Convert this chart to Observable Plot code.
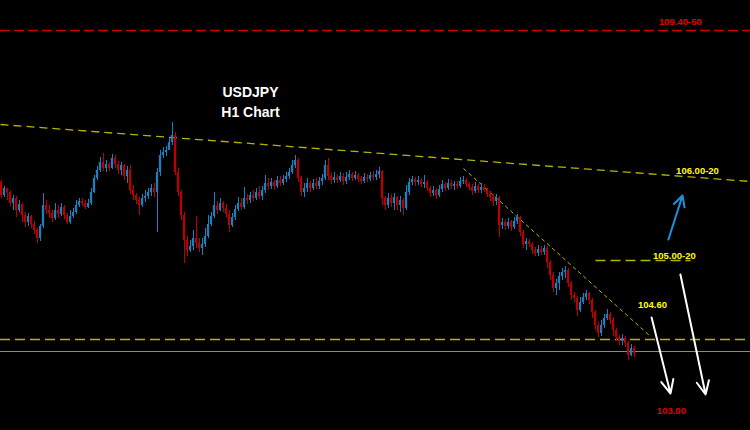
<!DOCTYPE html>
<html><head><meta charset="utf-8">
<script src="https://cdn.jsdelivr.net/npm/d3@7"></script>
<script src="https://cdn.jsdelivr.net/npm/@observablehq/plot@0.6"></script>
<style>html,body{margin:0;padding:0;background:#000;overflow:hidden}#chart svg{display:block}</style>
</head><body><div id="chart"></div>
<script>
// USDJPY H1 candles (bar index = position); open of each bar = previous close
const firstOpen = 105.88;
const close = [
105.75,105.82,105.78,105.67,105.72,105.60,105.66,105.55,105.48,105.54,
105.46,105.40,105.32,105.44,105.65,105.60,105.57,105.52,105.60,105.56,
105.63,105.55,105.48,105.54,105.58,105.65,105.69,105.67,105.63,105.67,
105.78,105.92,106.00,106.08,106.02,106.06,106.02,106.12,106.06,106.00,
106.05,105.94,106.00,105.80,105.75,105.70,105.65,105.72,105.74,105.78,
105.82,105.78,105.98,106.15,106.18,106.20,106.28,106.35,105.98,105.78,
105.55,105.30,105.20,105.24,105.32,105.27,105.22,105.26,105.34,105.46,
105.54,105.65,105.60,105.67,105.62,105.56,105.45,105.53,105.61,105.67,
105.63,105.72,105.70,105.75,105.72,105.78,105.74,105.80,105.87,105.84,
105.88,105.84,105.90,105.87,105.91,105.94,105.98,106.05,106.10,105.92,
105.78,105.82,105.87,105.82,105.87,105.84,105.89,105.92,106.05,105.94,
105.90,105.93,105.90,105.94,105.89,105.93,105.96,105.92,105.95,105.91,
105.89,105.93,105.91,105.95,105.93,105.96,105.99,105.72,105.65,105.72,
105.67,105.73,105.65,105.70,105.62,105.78,105.88,105.91,105.88,105.90,
105.86,105.88,105.82,105.77,105.80,105.75,105.81,105.86,105.82,105.87,
105.84,105.86,105.84,105.89,105.90,105.86,105.83,105.79,105.84,105.80,
105.83,105.80,105.76,105.73,105.69,105.72,105.45,105.48,105.44,105.48,
105.43,105.49,105.53,105.38,105.26,105.29,105.26,105.20,105.17,105.21,
105.18,105.22,105.08,104.95,104.82,104.87,104.94,104.98,105.00,104.87,
104.75,104.72,104.60,104.68,104.73,104.77,104.70,104.58,104.45,104.37,
104.45,104.52,104.56,104.50,104.40,104.33,104.29,104.32,104.27,104.15,
104.22,104.17];
const high = [
105.90,105.84,105.82,105.80,105.75,105.74,105.70,105.67,105.58,105.57,
105.55,105.49,105.42,105.46,105.77,105.70,105.65,105.60,105.67,105.65,
105.67,105.65,105.57,105.60,105.62,105.70,105.72,105.72,105.70,105.71,
105.82,105.95,106.04,106.13,106.17,106.10,106.08,106.16,106.15,106.09,
106.08,106.06,106.04,106.05,105.85,105.77,105.73,105.76,105.80,105.82,
105.86,105.87,106.02,106.20,106.23,106.24,106.32,106.48,106.38,106.02,
105.80,105.58,105.34,105.30,105.40,105.54,105.32,105.32,105.42,105.55,
105.58,105.78,105.69,105.72,105.69,105.66,105.60,105.57,105.65,105.73,
105.72,105.83,105.76,105.78,105.80,105.82,105.84,105.84,105.95,105.92,
105.92,105.90,105.94,105.94,105.95,105.98,106.02,106.10,106.15,106.12,
105.94,105.87,105.92,105.89,105.91,105.92,105.93,105.96,106.10,106.12,
105.97,105.98,105.96,105.98,105.97,105.98,106.00,105.98,105.99,105.97,
105.94,105.97,105.96,105.98,105.99,106.00,106.03,106.00,105.74,105.77,
105.76,105.77,105.74,105.74,105.72,105.85,105.92,105.94,105.93,105.94,
105.92,105.95,105.90,105.84,105.84,105.82,105.85,105.90,105.88,105.91,
105.90,105.89,105.89,105.93,105.94,105.92,105.88,105.86,105.88,105.86,
105.87,105.86,105.82,105.79,105.76,105.76,105.74,105.52,105.51,105.52,
105.50,105.53,105.56,105.54,105.40,105.32,105.31,105.28,105.23,105.25,
105.24,105.25,105.24,105.10,104.98,104.91,104.98,105.02,105.04,105.02,
104.89,104.78,104.74,104.73,104.77,104.80,104.78,104.72,104.60,104.48,
104.50,104.56,104.61,104.58,104.53,104.42,104.35,104.36,104.34,104.29,
104.26,104.24];
const low = [
105.72,105.73,105.70,105.64,105.60,105.53,105.58,105.48,105.43,105.44,
105.42,105.36,105.27,105.29,105.42,105.56,105.52,105.48,105.50,105.52,
105.54,105.51,105.46,105.46,105.52,105.56,105.63,105.64,105.61,105.62,
105.65,105.77,105.90,105.98,105.99,105.98,105.99,106.01,106.02,105.96,
105.95,105.90,105.87,105.76,105.70,105.66,105.55,105.63,105.68,105.71,
105.74,105.73,105.38,105.94,106.12,106.14,106.20,106.25,105.95,105.74,
105.50,105.07,105.14,105.18,105.20,105.22,105.18,105.15,105.23,105.32,
105.44,105.52,105.56,105.59,105.58,105.52,105.38,105.43,105.50,105.59,
105.60,105.61,105.66,105.67,105.69,105.70,105.71,105.70,105.77,105.80,
105.81,105.80,105.82,105.84,105.85,105.88,105.91,105.96,106.02,105.88,
105.74,105.73,105.78,105.78,105.80,105.81,105.81,105.85,105.90,105.90,
105.86,105.87,105.87,105.88,105.85,105.86,105.90,105.89,105.90,105.88,
105.86,105.87,105.88,105.89,105.90,105.90,105.92,105.65,105.60,105.62,
105.63,105.60,105.60,105.58,105.55,105.60,105.75,105.85,105.84,105.85,
105.83,105.82,105.79,105.73,105.74,105.71,105.73,105.78,105.79,105.80,
105.81,105.80,105.81,105.82,105.86,105.83,105.80,105.75,105.77,105.77,
105.77,105.78,105.73,105.69,105.64,105.65,105.33,105.41,105.40,105.41,
105.39,105.41,105.46,105.34,105.22,105.20,105.23,105.16,105.14,105.14,
105.15,105.15,105.02,104.90,104.78,104.75,104.80,104.90,104.92,104.83,
104.70,104.68,104.54,104.58,104.66,104.70,104.66,104.52,104.40,104.33,
104.34,104.42,104.50,104.46,104.34,104.30,104.25,104.25,104.23,104.10,
104.14,104.13];

// Annotation levels
const resistanceLevel = 107.40;         // red dashed line
const supportLevel = 104.31;            // yellow dashed line
const currentPrice = 104.19;            // grey line
const midLevel = {x1: 198, x2: 229.7, y: 105.10};
const longTrend = {x1: -0.33, y1: 106.46, x2: 249.67, y2: 105.89};
const shortTrend = {x1: 154, y1: 106.02, x2: 216, y2: 104.35};
const labelText = ["109.40-50", "106.00-20", "105.00-20", "104.60", "103.00"];
const labelX = [226.3, 232, 224.3, 217, 223.3];
const labelY = [107.49, 106.00, 105.15, 104.66, 103.60];
const labelKind = ["down", "up", "up", "up", "down"];
const titleLines = ["USDJPY", "H1 Chart"];
const titleX = 83;
const titleY = [106.78, 106.58];
const arrowUp = {x1: 222.3, y1: 105.31, x2: 227, y2: 105.75};
const arrowsDown = [
  {x1: 216.7, y1: 104.53, x2: 223, y2: 103.77},
  {x1: 226.3, y1: 104.96, x2: 234.7, y2: 103.76}
];

const candles = close.map((c, i) => {
  const o = i === 0 ? firstOpen : close[i - 1];
  return {i, open: o, close: c,
    high: Math.max(high[i], o, c), low: Math.min(low[i], o, c),
    up: c >= o};
});
const labels = labelText.map((t, k) => ({text: t, x: labelX[k], y: labelY[k], kind: labelKind[k]}));
const titles = titleLines.map((t, k) => ({text: t, x: titleX, y: titleY[k]}));

const BLUE = "#1a80be", RED = "#bb0000", YEL = "#b4b400";
const font = "Liberation Sans, Arial, sans-serif";

const chart = Plot.plot({
  width: 750, height: 430, margin: 0,
  x: {domain: [-1/3, 749/3], axis: null},
  y: {domain: [103.40, 107.70], axis: null},
  style: {background: "#000", overflow: "visible"},
  marks: [
    Plot.ruleY([resistanceLevel], {stroke: "#cc0000", strokeWidth: 1.3, strokeDasharray: "10,4"}),
    Plot.ruleY([currentPrice], {stroke: "#8a8a8a", strokeWidth: 1}),
    Plot.ruleY([supportLevel], {stroke: YEL, strokeWidth: 1.5, strokeDasharray: "10,5"}),
    Plot.link([longTrend], {x1: "x1", y1: "y1", x2: "x2", y2: "y2", stroke: YEL, strokeWidth: 1.3, strokeDasharray: "8,5"}),
    Plot.link([shortTrend], {x1: "x1", y1: "y1", x2: "x2", y2: "y2", stroke: YEL, strokeWidth: 1, strokeDasharray: "4,3"}),
    Plot.link([midLevel], {x1: "x1", y1: "y", x2: "x2", y2: "y", stroke: YEL, strokeWidth: 1.5, strokeDasharray: "10,5"}),
    Plot.ruleX(candles, {x: "i", y1: "low", y2: "high", stroke: d => d.up ? BLUE : RED, strokeWidth: 1}),
    Plot.rect(candles, {x1: d => d.i - 0.38, x2: d => d.i + 0.38, y1: "open", y2: "close", fill: d => d.up ? BLUE : RED}),
    Plot.arrow([arrowUp], {x1: "x1", y1: "y1", x2: "x2", y2: "y2", stroke: "#1e90e0", strokeWidth: 2, headLength: 9, headAngle: 55}),
    Plot.arrow(arrowsDown, {x1: "x1", y1: "y1", x2: "x2", y2: "y2", stroke: "#ffffff", strokeWidth: 2, headLength: 11, headAngle: 50}),
    Plot.text(labels, {x: "x", y: "y", text: "text", fill: d => d.kind === "down" ? "#e00000" : "#ffff00",
      fontSize: 9.5, fontWeight: "bold", fontFamily: font}),
    Plot.text(titles, {x: "x", y: "y", text: "text", fill: "#ffffff", fontSize: 14, fontWeight: "bold", fontFamily: font})
  ]
});
document.getElementById("chart").append(chart);
</script></body></html>
